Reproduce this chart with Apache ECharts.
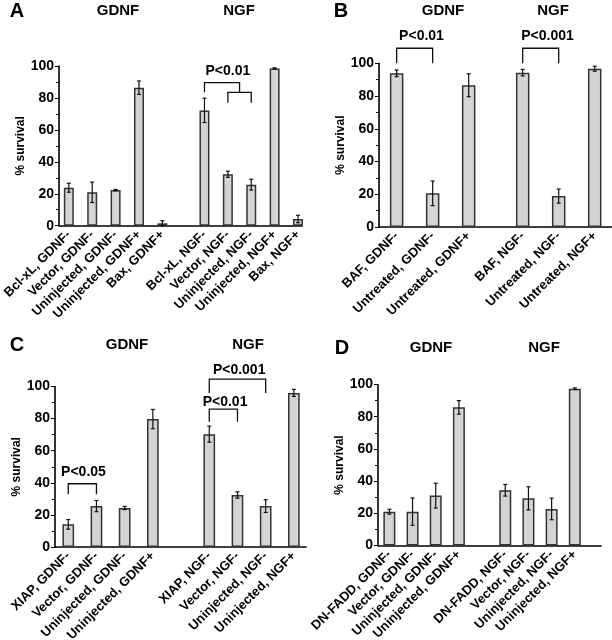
<!DOCTYPE html>
<html><head><meta charset="utf-8">
<script src="https://cdn.jsdelivr.net/npm/echarts@6/dist/echarts.min.js"></script>
<style>html,body{margin:0;padding:0;background:#fff}#c{width:612px;height:640px}</style>
</head><body><div id="c"></div>
<script>
// ---------- data ----------
const catA = ['Bcl-xL, GDNF-','Vector, GDNF-','Uninjected, GDNF-','Uninjected, GDNF+','Bax, GDNF+','Bcl-xL, NGF-','Vector, NGF-','Uninjected, NGF-','Uninjected, NGF+','Bax, NGF+'];
const valA = [23.8, 20.9, 22.3, 86.4, 1.5, 72.2, 32.2, 25.7, 98.5, 4.2];
const errA = [2.8, 6.4, 0.4, 4.2, 1.6, 7.6, 1.9, 3.4, 0.4, 2.3];

const catB = ['BAF, GDNF-','Untreated, GDNF-','Untreated, GDNF+','BAF, NGF-','Untreated, NGF-','Untreated, NGF+'];
const valB = [93.9, 20.6, 86.6, 94.3, 18.9, 96.7];
const errB = [2.0, 7.5, 7.0, 2.0, 4.3, 1.5];

const catC = ['XIAP, GDNF-','Vector, GDNF-','Uninjected, GDNF-','Uninjected, GDNF+','XIAP, NGF-','Vector, NGF-','Uninjected, NGF-','Uninjected, NGF+'];
const valC = [14.1, 25.5, 24.3, 79.7, 70.3, 32.4, 25.5, 96.0];
const errC = [3.0, 3.5, 1.0, 6.0, 5.0, 2.0, 4.0, 2.2];

const catD = ['DN-FADD, GDNF-','Vector, GDNF-','Uninjected, GDNF-','Uninjected, GDNF+','DN-FADD, NGF-','Vector, NGF-','Uninjected, NGF-','Uninjected, NGF+'];
const valD = [21.0, 21.0, 31.0, 85.8, 34.3, 29.3, 22.7, 97.4];
const errD = [1.5, 8.5, 7.7, 4.2, 3.6, 7.2, 6.7, 0.5];

const yTicks = [0, 20, 40, 60, 80, 100];

// significance brackets: category indices (fractional allowed), heights in % survival
const bracketsA = [[5, 6.5, 89.6, 83.5, 83.5], [6, 7, 83.5, 77, 77]];
const pTextA = [['P<0.01', 6, 96.5]];
const bracketsB = [[0, 1, 109.2, 100, 100], [3, 4, 109.2, 100, 100]];
const pTextB = [['P<0.01', 0.69, 116.3], ['P<0.001', 3.69, 116.3]];
const bracketsC = [[0, 1, 39.4, 32.8, 32.8], [4, 5, 85.9, 78, 78], [4, 6, 104.6, 96, 96]];
const pTextC = [['P<0.05', 0.54, 46.5], ['P<0.01', 4.56, 90.5], ['P<0.001', 5.06, 110.2]];
const bracketsD = [];
const pTextD = [];

// ---------- layout ----------
const FONT = '"Liberation Sans", Arial, Helvetica, sans-serif';
const panels = [
  {cats:catA, vals:valA, errs:errA, br:bracketsA, pt:pTextA, gap:0.8,
   grid:{left:59, right:310, top:66, bottom:414.3}, xmin:-0.42, xmax:9.97, bw:10},
  {cats:catB, vals:valB, errs:errB, br:bracketsB, pt:pTextB, gap:0.5,
   grid:{left:379, right:0, top:63.3, bottom:413}, xmin:-0.49, xmax:5.98, bw:13.5},
  {cats:catC, vals:valC, errs:errC, br:bracketsC, pt:pTextC, gap:1,
   grid:{left:55, right:306, top:386.5, bottom:93}, xmin:-0.47, xmax:8.43, bw:11.7},
  {cats:catD, vals:valD, errs:errD, br:bracketsD, pt:pTextD, gap:1,
   grid:{left:378, right:11, top:384.5, bottom:94.5}, xmin:-0.49, xmax:9.13, bw:12}
];

const grids = [], xAxes = [], yAxes = [], series = [];
panels.forEach((p, k) => {
  const split = p.cats.filter(c => c.indexOf('GDNF') >= 0).length;
  const pos = f => f + (f >= split - 1e-6 ? p.gap : 0);
  const positions = p.cats.map((c, i) => pos(i));
  grids.push(Object.assign({outerBoundsMode:'none', containLabel:false}, p.grid));
  xAxes.push({
    type:'value', gridIndex:k, min:p.xmin, max:p.xmax,
    axisLine:{show:true, onZero:false, lineStyle:{color:'#000', width:1.6}},
    axisTick:{show:false}, splitLine:{show:false},
    axisLabel:{
      customValues: positions, rotate:45, margin:7, color:'#000',
      fontWeight:'bold', fontSize:13, fontFamily:FONT,
      formatter: v => { const i = positions.findIndex(q => Math.abs(q - v) < 1e-6); return i >= 0 ? p.cats[i] : ''; }
    }
  });
  yAxes.push({
    type:'value', gridIndex:k, min:0, max:100, interval:20,
    axisLine:{show:true, onZero:false, lineStyle:{color:'#000', width:1.6}},
    axisTick:{show:true, length:4, lineStyle:{color:'#000', width:1}},
    minorTick:{show:true, splitNumber:2, length:3, lineStyle:{color:'#000', width:1}},
    splitLine:{show:false},
    axisLabel:{customValues: yTicks, color:'#000', fontWeight:'bold', fontSize:14, fontFamily:FONT, margin:5},
    name:'% survival', nameLocation:'middle', nameGap:23,
    nameTextStyle:{color:'#000', fontWeight:'bold', fontSize:12, fontFamily:FONT}
  });
  series.push({
    type:'bar', xAxisIndex:k, yAxisIndex:k, barWidth:p.bw, silent:true,
    data: p.vals.map((v, i) => [pos(i), v]),
    itemStyle:{color:'#d4d4d4', borderColor:'#333', borderWidth:1.5}
  });
  series.push({
    type:'custom', xAxisIndex:k, yAxisIndex:k, silent:true, clip:false, z:5,
    data: p.vals.map((v, i) => [pos(i), v, p.errs[i]]),
    renderItem: (params, api) => {
      const x = api.value(0), y = api.value(1), e = api.value(2);
      const t = api.coord([x, y + e]), b = api.coord([x, y - e]);
      const s = {stroke:'#111', lineWidth:1.2};
      return {type:'group', children:[
        {type:'line', shape:{x1:t[0], y1:t[1], x2:b[0], y2:b[1]}, style:s},
        {type:'line', shape:{x1:t[0]-2, y1:t[1], x2:t[0]+2, y2:t[1]}, style:s},
        {type:'line', shape:{x1:b[0]-2, y1:b[1], x2:b[0]+2, y2:b[1]}, style:s}
      ]};
    }
  });
  if (p.br.length) series.push({
    type:'custom', xAxisIndex:k, yAxisIndex:k, silent:true, clip:false, z:6,
    data: p.br.map(b => [pos(b[0]), pos(b[1]), b[2], b[3], b[4]]),
    renderItem: (params, api) => {
      const x0 = api.value(0), x1 = api.value(1), top = api.value(2), l = api.value(3), r = api.value(4);
      const a = api.coord([x0, l]), bt = api.coord([x0, top]), c = api.coord([x1, top]), d = api.coord([x1, r]);
      return {type:'polyline', shape:{points:[a, bt, c, d]}, style:{stroke:'#111', lineWidth:1.3, fill:null}};
    }
  });
  if (p.pt.length) series.push({
    type:'custom', xAxisIndex:k, yAxisIndex:k, silent:true, clip:false, z:6,
    data: p.pt.map(t => [pos(t[1]), t[2]]),
    renderItem: (params, api) => {
      const c = api.coord([api.value(0), api.value(1)]);
      return {type:'text', x:c[0], y:c[1], style:{text:p.pt[params.dataIndex][0], fill:'#000',
        font:'bold 14px ' + FONT, textAlign:'center', textVerticalAlign:'middle'}};
    }
  });
});

const heads = [
  ['A', 17, 11, 20], ['GDNF', 118, 11, 15], ['NGF', 239, 11, 15],
  ['B', 341, 11, 20], ['GDNF', 443, 11, 15], ['NGF', 553, 11, 15],
  ['C', 17, 345, 20], ['GDNF', 127, 345, 15], ['NGF', 248, 345, 15],
  ['D', 342, 348, 20], ['GDNF', 431, 348, 15], ['NGF', 544, 348, 15]
];

const chart = echarts.init(document.getElementById('c'), null, {renderer:'canvas'});
chart.setOption({
  animation:false, backgroundColor:'#fff',
  grid:grids, xAxis:xAxes, yAxis:yAxes, series:series,
  graphic: heads.map(h => ({type:'text', x:h[1], y:h[2], silent:true,
    style:{text:h[0], fill:'#000', font:'bold ' + h[3] + 'px ' + FONT, textAlign:'center', textVerticalAlign:'middle'}}))
});
</script></body></html>
